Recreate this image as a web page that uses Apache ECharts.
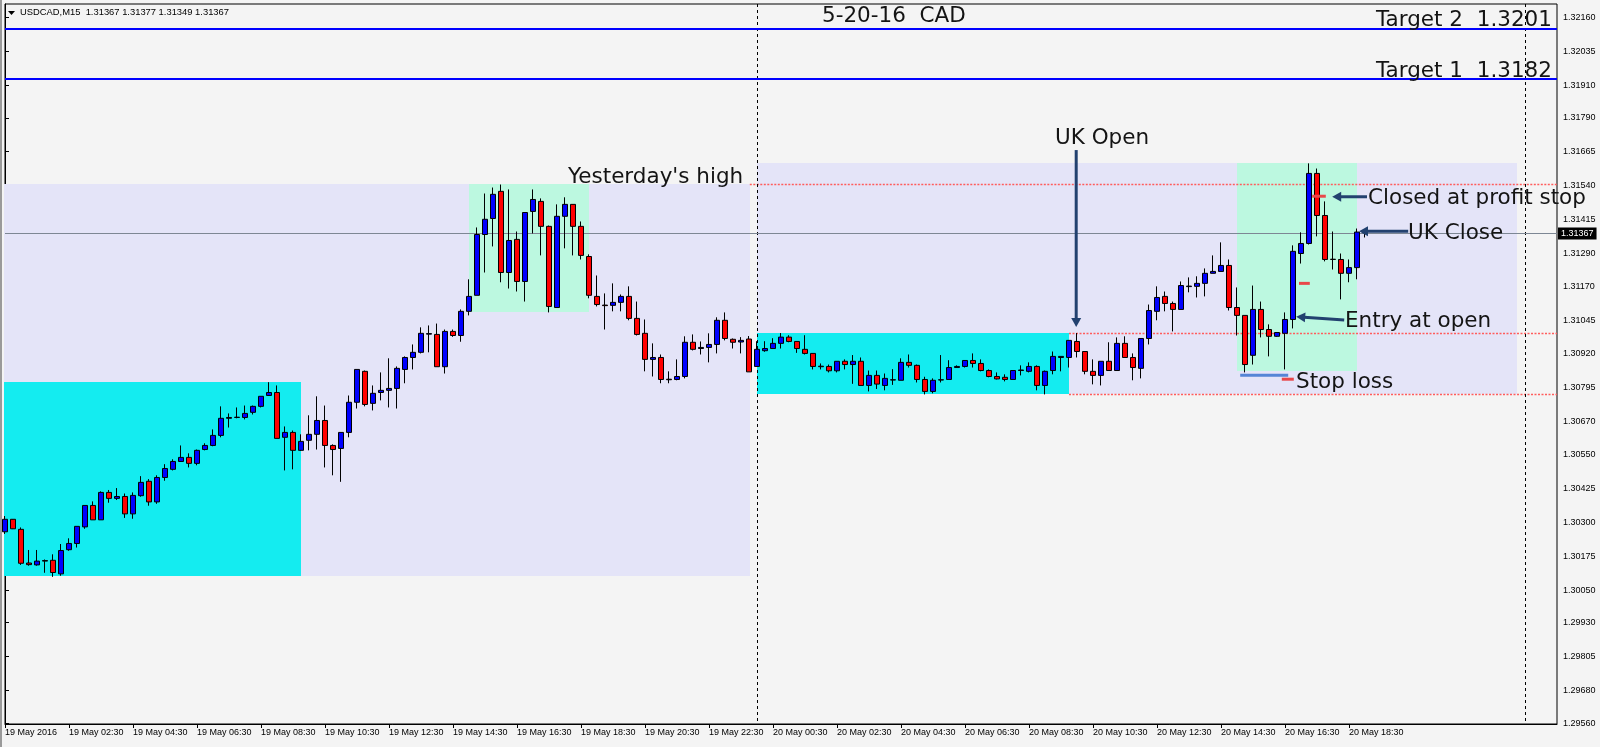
<!DOCTYPE html>
<html><head><meta charset="utf-8">
<script src="https://cdn.jsdelivr.net/npm/echarts@6/dist/echarts.min.js"></script>
<style>html,body{margin:0;padding:0;background:#f4f4f4;overflow:hidden}#c{width:1600px;height:747px}</style>
</head><body><div id="c"></div>
<script>
// ---------------- data ----------------
const symbolInfo = 'USDCAD,M15  1.31367 1.31377 1.31349 1.31367';
const chartTitle = '5-20-16  CAD';
const barCount = 195; // visible 15-minute slots, starting 19 May 00:30

const opens = [1.30265,1.30311,1.30274,1.30150,1.30143,1.30157,1.30160,1.30110,1.30199,1.30222,
1.30283,1.30362,1.30309,1.30410,1.30388,1.30395,1.30331,1.30398,1.30451,1.30375,
1.30465,1.30495,1.30524,1.30539,1.30517,1.30568,1.30583,1.30620,1.30683,1.30686,
1.30686,1.30705,1.30727,1.30767,1.30778,1.30613,1.30631,1.30565,1.30602,1.30624,
1.30675,1.30583,1.30572,1.30631,1.30742,1.30856,1.30738,1.30778,1.30786,1.30793,
1.30863,1.30907,1.30926,1.30993,1.30992,1.30873,1.31003,1.30988,1.31077,1.31136,
1.31360,1.31419,1.31519,1.31220,1.31342,1.31187,1.31445,1.31482,1.31390,1.31091,
1.31427,1.31471,1.31390,1.31279,1.31132,1.31100,1.31099,1.31110,1.31132,1.31051,
1.30996,1.30900,1.30907,1.30827,1.30826,1.30837,1.30963,1.30940,1.30944,1.30955,
1.31044,1.30974,1.30964,1.30975,1.30874,1.30932,1.30940,1.30959,1.30982,1.30966,
1.30937,1.30922,1.30875,1.30874,1.30858,1.30893,1.30881,1.30893,1.30804,1.30841,
1.30804,1.30824,1.30823,1.30889,1.30878,1.30826,1.30782,1.30824,1.30826,1.30870,
1.30874,1.30896,1.30885,1.30859,1.30837,1.30834,1.30826,1.30859,1.30856,1.30874,
1.30804,1.30859,1.30907,1.30907,1.30966,1.30929,1.30856,1.30841,1.30893,1.30859,
1.30959,1.30907,1.30867,1.30977,1.31077,1.31132,1.31106,1.31084,1.31168,1.31169,
1.31180,1.31217,1.31224,1.31246,1.31091,1.31062,1.30915,1.31084,1.31010,1.30985,
1.30996,1.31047,1.31290,1.31327,1.31585,1.31430,1.31269,1.31268,1.31217,1.31238,
1.31367];
const highs = [1.30323,1.30312,1.30281,1.30198,1.30198,1.30163,1.30182,1.30220,1.30241,1.30285,
1.30362,1.30377,1.30414,1.30419,1.30426,1.30406,1.30410,1.30470,1.30459,1.30473,
1.30514,1.30532,1.30583,1.30554,1.30568,1.30591,1.30642,1.30727,1.30701,1.30723,
1.30730,1.30730,1.30764,1.30816,1.30804,1.30653,1.30638,1.30624,1.30694,1.30764,
1.30730,1.30587,1.30631,1.30767,1.30863,1.30859,1.30804,1.30852,1.30904,1.30874,
1.30911,1.30955,1.31018,1.31025,1.31032,1.31010,1.31010,1.31084,1.31195,1.31386,
1.31511,1.31533,1.31544,1.31526,1.31371,1.31441,1.31526,1.31493,1.31393,1.31471,
1.31497,1.31471,1.31408,1.31287,1.31209,1.31143,1.31180,1.31139,1.31169,1.31113,
1.31047,1.30959,1.30918,1.30856,1.30900,1.30985,1.30992,1.30966,1.30996,1.31055,
1.31073,1.30977,1.30982,1.30986,1.30967,1.30967,1.30978,1.30997,1.30989,1.30966,
1.30989,1.30922,1.30885,1.30881,1.30893,1.30900,1.30916,1.30907,1.30859,1.30859,
1.30848,1.30864,1.30904,1.30918,1.30881,1.30836,1.30830,1.30916,1.30897,1.30878,
1.30896,1.30922,1.30900,1.30863,1.30852,1.30845,1.30859,1.30878,1.30889,1.30878,
1.30859,1.30929,1.30911,1.30970,1.30997,1.30929,1.30900,1.30893,1.30963,1.30981,
1.30985,1.30922,1.30977,1.31102,1.31169,1.31150,1.31113,1.31187,1.31202,1.31206,
1.31235,1.31283,1.31331,1.31268,1.31165,1.31062,1.31172,1.31113,1.31029,1.30999,
1.31073,1.31320,1.31368,1.31622,1.31603,1.31482,1.31371,1.31290,1.31268,1.31382,
1.31377];
const lows = [1.30257,1.30275,1.30143,1.30140,1.30140,1.30114,1.30099,1.30103,1.30195,1.30207,
1.30276,1.30309,1.30309,1.30372,1.30382,1.30316,1.30313,1.30394,1.30361,1.30368,
1.30453,1.30491,1.30522,1.30502,1.30510,1.30565,1.30580,1.30613,1.30649,1.30683,
1.30679,1.30697,1.30723,1.30767,1.30609,1.30491,1.30495,1.30563,1.30565,1.30568,
1.30502,1.30473,1.30449,1.30613,1.30719,1.30727,1.30712,1.30749,1.30723,1.30719,
1.30812,1.30863,1.30922,1.30926,1.30873,1.30848,1.30983,1.30965,1.31062,1.31136,
1.31220,1.31316,1.31184,1.31161,1.31150,1.31113,1.31364,1.31283,1.31073,1.31091,
1.31309,1.31283,1.31268,1.31125,1.31095,1.31010,1.31077,1.31077,1.31044,1.30988,
1.30856,1.30837,1.30812,1.30812,1.30823,1.30830,1.30933,1.30918,1.30889,1.30922,
1.30970,1.30940,1.30922,1.30854,1.30872,1.30928,1.30940,1.30940,1.30963,1.30924,
1.30918,1.30863,1.30863,1.30852,1.30852,1.30863,1.30810,1.30804,1.30782,1.30791,
1.30786,1.30806,1.30823,1.30870,1.30815,1.30771,1.30775,1.30815,1.30826,1.30870,
1.30870,1.30870,1.30856,1.30834,1.30826,1.30819,1.30826,1.30841,1.30852,1.30786,
1.30771,1.30845,1.30856,1.30870,1.30907,1.30845,1.30808,1.30804,1.30859,1.30859,
1.30907,1.30823,1.30830,1.30955,1.31044,1.31077,1.31003,1.31084,1.31147,1.31128,
1.31132,1.31217,1.31224,1.31080,1.30988,1.30852,1.30881,1.30981,1.30911,1.30983,
1.30863,1.31014,1.31253,1.31323,1.31353,1.31261,1.31231,1.31121,1.31184,1.31195,
1.31349];
const closes = [1.30311,1.30276,1.30149,1.30144,1.30157,1.30159,1.30115,1.30196,1.30222,1.30285,
1.30362,1.30309,1.30410,1.30388,1.30395,1.30331,1.30399,1.30447,1.30375,1.30465,
1.30498,1.30524,1.30539,1.30517,1.30565,1.30583,1.30620,1.30683,1.30686,1.30687,
1.30701,1.30727,1.30764,1.30778,1.30609,1.30631,1.30565,1.30598,1.30624,1.30675,
1.30583,1.30568,1.30631,1.30742,1.30863,1.30734,1.30775,1.30786,1.30793,1.30867,
1.30907,1.30926,1.30996,1.30995,1.30873,1.31003,1.30988,1.31077,1.31132,1.31360,
1.31416,1.31508,1.31220,1.31338,1.31187,1.31441,1.31489,1.31390,1.31095,1.31427,
1.31471,1.31390,1.31283,1.31136,1.31102,1.31098,1.31110,1.31132,1.31051,1.30992,
1.30900,1.30907,1.30826,1.30825,1.30837,1.30963,1.30937,1.30944,1.30955,1.31044,
1.30977,1.30963,1.30970,1.30854,1.30937,1.30940,1.30959,1.30982,1.30966,1.30940,
1.30922,1.30874,1.30873,1.30858,1.30893,1.30881,1.30893,1.30804,1.30841,1.30809,
1.30830,1.30825,1.30889,1.30878,1.30826,1.30782,1.30823,1.30825,1.30870,1.30874,
1.30896,1.30885,1.30859,1.30837,1.30828,1.30826,1.30859,1.30861,1.30874,1.30804,
1.30856,1.30911,1.30911,1.30970,1.30929,1.30856,1.30841,1.30893,1.30859,1.30959,
1.30907,1.30870,1.30977,1.31080,1.31128,1.31106,1.31084,1.31172,1.31170,1.31180,
1.31217,1.31224,1.31246,1.31091,1.31062,1.30881,1.31084,1.31010,1.30985,1.30999,
1.31047,1.31298,1.31327,1.31585,1.31430,1.31268,1.31268,1.31217,1.31238,1.31369,
1.31367];

const xTickLabels = ['19 May 2016','19 May 02:30','19 May 04:30','19 May 06:30','19 May 08:30','19 May 10:30',
'19 May 12:30','19 May 14:30','19 May 16:30','19 May 18:30','19 May 20:30','19 May 22:30','20 May 00:30',
'20 May 02:30','20 May 04:30','20 May 06:30','20 May 08:30','20 May 10:30','20 May 12:30','20 May 14:30',
'20 May 16:30','20 May 18:30'];
const yTickValues = [1.29560,1.29680,1.29805,1.29930,1.30050,1.30175,1.30300,1.30425,1.30550,1.30670,1.30795,
1.30920,1.31045,1.31170,1.31290,1.31415,1.31540,1.31665,1.31790,1.31910,1.32035,1.32160];
const bidPrice = 1.31367;
const targetPrices = [1.32116, 1.31932];

// session boxes (x in bar index, y in price)
const boxStart = [-0.125, -0.125, 58.04, 94, 94, 154];
const boxEnd   = [93.1, 37, 73, 189, 133, 169];
const boxLow   = [1.30101, 1.30101, 1.31075, 1.30773, 1.30773, 1.30856];
const boxHigh  = [1.31545, 1.30816, 1.31545, 1.31623, 1.30996, 1.31623];
const boxKind  = ['day', 'asia', 'london', 'day', 'asia', 'london'];

// dotted price levels
const levelStart = [93.1, 133, 133];
const levelEnd   = [194, 194, 194];
const levelPrice = [1.31547, 1.30996, 1.30773];

// day separators (bar index)
const daySeparators = [94, 190];

// arrows (bar index, price) from -> tip
const arrowFromX = [133.9, 170.25, 175.4, 167.4];
const arrowFromY = [1.31671, 1.31499, 1.31372, 1.31045];
const arrowToX   = [133.9, 165.9, 169.25, 161.4];
const arrowToY   = [1.31019, 1.31499, 1.31372, 1.31057];

// short marks
const markStart = [163.4, 161.75, 159.6, 154.4];
const markEnd   = [165.1, 163.1, 161.1, 160.4];
const markPrice = [1.31501, 1.31180, 1.30827, 1.30842];
const markKind  = ['red', 'red', 'red', 'blue'];

// ---------------- styles ----------------
const boxColors = {day: '#e4e4f8', asia: '#14ecf0', london: '#bcf8e0'};
const markColors = {red: '#e8484a', blue: '#5585d6'};
const arrowColor = '#22416f';
const annoFont = '"DejaVu Sans", sans-serif';
const smallFont = '"Liberation Sans", Arial, sans-serif';

const categories = [];
for (let i = 0; i < barCount; i++) {
  const t = 30 + 15 * i, day = 19 + Math.floor(t / 1440), m = t % 1440;
  categories.push(day + ' May ' + String(Math.floor(m / 60)).padStart(2, '0') + ':' + String(m % 60).padStart(2, '0'));
}
const candleData = opens.map((o, i) => [o, closes[i], lows[i], highs[i]]);
const labelInterval = (index) => index % 8 === 0 && index / 8 < xTickLabels.length;

const chart = echarts.init(document.getElementById('c'), null, {renderer: 'canvas'});

function annoText(text, x, y) {
  return {type: 'text', x: x, y: y, z: 100,
          style: {text: text, fill: '#141414', font: '21.5px ' + annoFont, verticalAlign: 'middle'}};
}

const option = {
  animation: false,
  backgroundColor: '#f4f4f4',
  grid: {left: 5, right: 43, top: 4, bottom: 23, show: true, backgroundColor: '#f4f4f4', borderColor: '#000', borderWidth: 1},
  xAxis: [
    {type: 'category', data: categories, boundaryGap: false,
     axisLine: {show: true, lineStyle: {color: '#000', width: 1}},
     axisTick: {show: true, interval: labelInterval, length: 4, lineStyle: {color: '#000'}},
     axisLabel: {show: true, interval: labelInterval, formatter: (v, i) => xTickLabels[i / 8], align: 'left',
                 margin: 4, fontSize: 9, fontFamily: smallFont, color: '#000'},
     splitLine: {show: false}},
    {type: 'value', min: 0, max: barCount - 1, show: false}
  ],
  yAxis: [{
    type: 'value', position: 'right', min: 1.29557, max: 1.32209,
    axisLine: {show: true, lineStyle: {color: '#000'}},
    axisTick: {show: true, length: 4, customValues: yTickValues, lineStyle: {color: '#000'}},
    axisLabel: {show: true, customValues: yTickValues, formatter: v => v.toFixed(5), margin: 6, fontSize: 9,
                fontFamily: smallFont, color: '#000'},
    splitLine: {show: false}
  }],
  series: [
    { // session boxes
      type: 'custom', xAxisIndex: 1, yAxisIndex: 0, z: 1, silent: true,
      data: boxStart.map((s, i) => [s, boxHigh[i]]),
      renderItem: (params, api) => {
        const i = params.dataIndex;
        const a = api.coord([boxStart[i], boxHigh[i]]);
        const b = api.coord([boxEnd[i], boxLow[i]]);
        const x0 = Math.round(a[0]), y0 = Math.round(a[1]), x1 = Math.round(b[0]), y1 = Math.round(b[1]);
        return {type: 'rect', shape: {x: x0, y: y0, width: x1 - x0, height: y1 - y0}, style: {fill: boxColors[boxKind[i]]}};
      }
    },
    { // dotted levels
      type: 'custom', xAxisIndex: 1, yAxisIndex: 0, z: 2, silent: true,
      data: levelPrice.map((p, i) => [levelStart[i], p]),
      renderItem: (params, api) => {
        const i = params.dataIndex;
        const a = api.coord([levelStart[i], levelPrice[i]]);
        const b = api.coord([levelEnd[i], levelPrice[i]]);
        const y = Math.round(a[1]) + 0.5;
        return {type: 'line', shape: {x1: a[0], y1: y, x2: b[0], y2: y},
                style: {stroke: '#ff5c5c', lineWidth: 1.5, lineDash: [2, 1.5]}};
      }
    },
    { // day separators
      type: 'custom', xAxisIndex: 1, yAxisIndex: 0, z: 2, silent: true,
      data: daySeparators.map(d => [d, 1.3]),
      renderItem: (params, api) => {
        const cs = params.coordSys;
        const x = Math.round(api.coord([daySeparators[params.dataIndex], 1.3])[0]) + 0.5;
        return {type: 'line', shape: {x1: x, y1: cs.y, x2: x, y2: cs.y + cs.height},
                style: {stroke: '#000', lineWidth: 1, lineDash: [3, 3]}};
      }
    },
    { // bid price line and label
      type: 'custom', xAxisIndex: 1, yAxisIndex: 0, z: 2, silent: true,
      data: [[0, bidPrice]],
      renderItem: (params, api) => {
        const cs = params.coordSys;
        const y = Math.round(api.coord([0, bidPrice])[1]) + 0.5;
        return {type: 'group', children: [
          {type: 'line', shape: {x1: cs.x, y1: y, x2: cs.x + cs.width, y2: y}, style: {stroke: '#7d8794', lineWidth: 1}},
          {type: 'text', x: cs.x + cs.width + 1, y: y, z2: 10,
           style: {text: bidPrice.toFixed(5), fill: '#fff', backgroundColor: '#000', padding: [2, 3, 1, 3],
                   font: '9px ' + smallFont, verticalAlign: 'middle', align: 'left'}}
        ]};
      }
    },
    { // candles
      type: 'candlestick', xAxisIndex: 0, yAxisIndex: 0, z: 3, barWidth: 5, clip: true,
      data: candleData,
      itemStyle: {color: '#0000ff', color0: '#ff0000', borderColor: '#000', borderColor0: '#000', borderColorDoji: '#000', borderWidth: 1}
    },
    { // target lines
      type: 'custom', xAxisIndex: 1, yAxisIndex: 0, z: 4, silent: true,
      data: targetPrices.map(p => [0, p]),
      renderItem: (params, api) => {
        const cs = params.coordSys;
        const y = Math.round(api.coord([0, targetPrices[params.dataIndex]])[1]);
        return {type: 'line', shape: {x1: cs.x, y1: y, x2: cs.x + cs.width, y2: y}, style: {stroke: '#0000ff', lineWidth: 2}};
      }
    },
    { // short marks
      type: 'custom', xAxisIndex: 1, yAxisIndex: 0, z: 5, silent: true,
      data: markPrice.map((p, i) => [markStart[i], p]),
      renderItem: (params, api) => {
        const i = params.dataIndex;
        const a = api.coord([markStart[i], markPrice[i]]);
        const b = api.coord([markEnd[i], markPrice[i]]);
        return {type: 'line', shape: {x1: a[0], y1: a[1], x2: b[0], y2: b[1]}, style: {stroke: markColors[markKind[i]], lineWidth: 3}};
      }
    },
    { // arrows
      type: 'custom', xAxisIndex: 1, yAxisIndex: 0, z: 6, silent: true,
      data: arrowFromX.map((x, i) => [x, arrowFromY[i]]),
      renderItem: (params, api) => {
        const i = params.dataIndex;
        const p0 = api.coord([arrowFromX[i], arrowFromY[i]]);
        const p1 = api.coord([arrowToX[i], arrowToY[i]]);
        const dx = p1[0] - p0[0], dy = p1[1] - p0[1], len = Math.hypot(dx, dy);
        const ux = dx / len, uy = dy / len, hl = 9, hw = 5;
        const bx = p1[0] - ux * hl, by = p1[1] - uy * hl;
        return {type: 'group', children: [
          {type: 'line', shape: {x1: p0[0], y1: p0[1], x2: bx + ux, y2: by + uy}, style: {stroke: arrowColor, lineWidth: 3}},
          {type: 'polygon', shape: {points: [[p1[0], p1[1]], [bx - uy * hw, by + ux * hw], [bx + uy * hw, by - ux * hw]]}, style: {fill: arrowColor}}
        ]};
      }
    }
  ],
  graphic: [
    {type: 'rect', x: 0, y: 0, shape: {width: 2, height: 747}, style: {fill: '#9a9a9a'}, z: 100},
    {type: 'polygon', shape: {points: [[8, 11], [15, 11], [11.5, 15]]}, style: {fill: '#000'}, z: 100},
    {type: 'text', x: 20, y: 12.5, z: 100, style: {text: symbolInfo, fill: '#000', font: '9.4px ' + smallFont, verticalAlign: 'middle'}},
    annoText(chartTitle, 822, 16),
    annoText('Target 2  1.3201', 1376, 20.5),
    annoText('Target 1  1.3182', 1376, 71.5),
    annoText("Yesterday's high", 568, 177.5),
    annoText('UK Open', 1055, 138.5),
    annoText('Closed at profit stop', 1368, 198.5),
    annoText('UK Close', 1408, 233.5),
    annoText('Entry at open', 1345, 321),
    annoText('Stop loss', 1296, 382)
  ]
};
chart.setOption(option);
</script>
</body></html>
